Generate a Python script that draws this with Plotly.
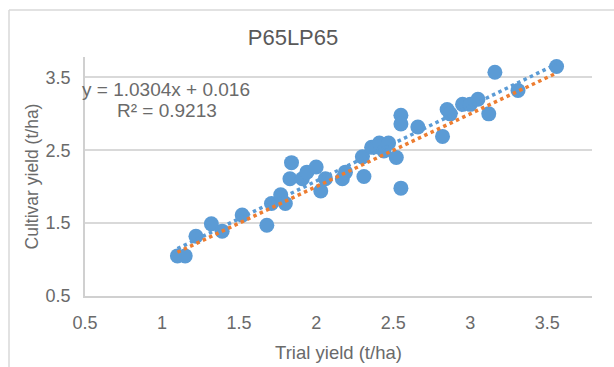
import plotly.graph_objects as go

# Trial yield vs cultivar yield (t/ha)
trial_yield = [1.10, 1.15, 1.22, 1.32, 1.39, 1.52, 1.68, 1.71, 1.77, 1.80,
               1.84, 1.83, 1.91, 1.94, 2.00, 2.06, 2.03, 2.17, 2.19, 2.30,
               2.31, 2.36, 2.39, 2.41, 2.44, 2.47, 2.52, 2.55, 2.55, 2.55,
               2.66, 2.82, 2.85, 2.87, 2.95, 3.00, 3.05, 3.12, 3.16, 3.31,
               3.56]
cultivar_yield = [1.05, 1.05, 1.32, 1.49, 1.39, 1.61, 1.47, 1.77, 1.89, 1.77,
                  2.33, 2.11, 2.11, 2.20, 2.27, 2.11, 1.94, 2.11, 2.20, 2.41,
                  2.14, 2.54, 2.55, 2.60, 2.49, 2.60, 2.40, 2.98, 2.86, 1.98,
                  2.82, 2.69, 3.06, 3.00, 3.13, 3.13, 3.20, 3.00, 3.57, 3.32,
                  3.65]

# Linear fit as reported on the chart
slope = 1.0304
intercept = 0.016
r_squared = 0.9213

x_ticks = [0.5, 1, 1.5, 2, 2.5, 3, 3.5]
x_tick_text = ["0.5", "1", "1.5", "2", "2.5", "3", "3.5"]
y_ticks = [0.5, 1.5, 2.5, 3.5]
y_tick_text = ["0.5", "1.5", "2.5", "3.5"]

BLUE = "#5B9BD5"
ORANGE = "#ED7D31"
TEXT = "#6a6a6a"
FONT = "Liberation Sans, Arial, sans-serif"

x_min, x_max = min(trial_yield), max(trial_yield)
fit_x = [x_min, x_max]
fit_y = [slope * v + intercept for v in fit_x]

fig = go.Figure()
fig.add_trace(go.Scatter(
    x=trial_yield, y=cultivar_yield, mode="markers",
    marker=dict(color=BLUE, size=15, line=dict(width=0)),
    showlegend=False, hoverinfo="x+y"))
fig.add_trace(go.Scatter(
    x=fit_x, y=fit_y, mode="lines",
    line=dict(color=BLUE, width=3.5, dash="3.5px,3.5px"),
    showlegend=False, hoverinfo="skip"))
fig.add_trace(go.Scatter(
    x=fit_x, y=fit_x, mode="lines",
    line=dict(color=ORANGE, width=3.5, dash="3.5px,3.5px"),
    showlegend=False, hoverinfo="skip"))

fig.update_layout(
    width=614, height=367,
    margin=dict(l=85, r=22, t=57, b=71),
    paper_bgcolor="white", plot_bgcolor="white",
    font=dict(family=FONT, color=TEXT, size=18),
    title=dict(text="P65LP65", x=293 / 614, xanchor="center",
               y=1 - 37 / 367, yanchor="middle",
               font=dict(size=22, color="#595959", family=FONT)),
    xaxis=dict(range=[0.5, 3.79], tickvals=x_ticks, ticktext=x_tick_text,
               showgrid=False, zeroline=False, automargin=False,
               showline=True, linecolor="#d0d0d0", linewidth=1.5,
               ticks="outside", ticklen=10, tickcolor="rgba(0,0,0,0)",
               tickfont=dict(size=18, color=TEXT),
               title=dict(text="Trial yield (t/ha)", standoff=14,
                          font=dict(size=18.5, color=TEXT))),
    yaxis=dict(range=[0.5, 3.78], tickvals=y_ticks, ticktext=y_tick_text,
               showgrid=True, gridcolor="#d9d9d9", gridwidth=1.5,
               zeroline=False, automargin=False,
               showline=True, linecolor="#d0d0d0", linewidth=1.5,
               ticks="outside", ticklen=9, tickcolor="rgba(0,0,0,0)",
               tickfont=dict(size=18, color=TEXT),
               title=dict(text="Cultivar yield (t/ha)", standoff=2,
                          font=dict(size=17.5, color=TEXT))),
    annotations=[
        dict(text=f"y = {slope}x + {intercept}", xref="paper", yref="paper",
             x=(80 - 85) / 507, y=(296 - 89) / 239, xanchor="left",
             yanchor="middle", showarrow=False,
             font=dict(size=19, color=TEXT)),
        dict(text=f"R² = {r_squared}", xref="paper", yref="paper",
             x=(115 - 85) / 507, y=(296 - 110) / 239, xanchor="left",
             yanchor="middle", showarrow=False,
             font=dict(size=19, color=TEXT)),
    ],
    shapes=[
        # outer chart frame (left and top edges)
        dict(type="line", xref="paper", yref="paper",
             x0=(9 - 85) / 507, x1=(9 - 85) / 507,
             y0=(296 - 367) / 239, y1=(296 - 10) / 239,
             line=dict(color="#d9d9d9", width=1.5)),
        dict(type="line", xref="paper", yref="paper",
             x0=(9 - 85) / 507, x1=(614 - 85) / 507,
             y0=(296 - 10) / 239, y1=(296 - 10) / 239,
             line=dict(color="#d9d9d9", width=1.5)),
    ],
)

fig.write_html("out.html")
